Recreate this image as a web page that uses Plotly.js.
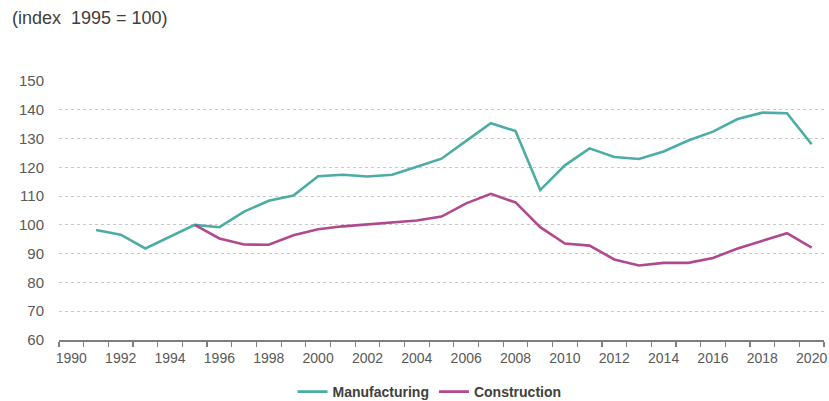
<!DOCTYPE html>
<html>
<head>
<meta charset="utf-8">
<script src="https://cdn.plot.ly/plotly-3.0.1.min.js"></script>
<style>html,body{margin:0;padding:0;background:#fff;}#chart{width:829px;height:401px;}</style>
</head>
<body>
<div id="chart"></div>
<script>
const yearsManufacturing = [1991,1992,1993,1994,1995,1996,1997,1998,1999,2000,2001,2002,2003,2004,2005,2006,2007,2008,2009,2010,2011,2012,2013,2014,2015,2016,2017,2018,2019,2020];
const manufacturing = [98.2,96.6,91.8,96.0,100.0,99.2,104.6,108.4,110.2,116.9,117.4,116.8,117.4,120.2,123.0,129.2,135.3,132.6,112.1,120.7,126.6,123.6,122.9,125.5,129.3,132.4,136.8,139.0,138.8,128.0];
const yearsConstruction = [1995,1996,1997,1998,1999,2000,2001,2002,2003,2004,2005,2006,2007,2008,2009,2010,2011,2012,2013,2014,2015,2016,2017,2018,2019,2020];
const construction = [100.0,95.3,93.2,93.1,96.4,98.5,99.5,100.2,100.8,101.5,102.9,107.5,110.8,107.8,99.2,93.5,92.8,88.0,85.9,86.8,86.8,88.5,91.8,94.4,97.1,92.1];
const yTicks = [60,70,80,90,100,110,120,130,140,150];
const xTickYears = [1990,1992,1994,1996,1998,2000,2002,2004,2006,2008,2010,2012,2014,2016,2018,2020];

const fam = '"Liberation Sans", Arial, sans-serif';

const traces = [
  {x: yearsManufacturing, y: manufacturing, type: 'scatter', mode: 'lines', name: 'Manufacturing',
   line: {color: '#4BADA5', width: 2.6}},
  {x: yearsConstruction, y: construction, type: 'scatter', mode: 'lines', name: 'Construction',
   line: {color: '#B0498F', width: 2.6}}
];

const layout = {
  width: 829, height: 401,
  margin: {l: 59, r: 5, t: 81, b: 61, autoexpand: false},
  paper_bgcolor: '#fff', plot_bgcolor: '#fff',
  font: {family: fam, size: 14, color: '#595959'},
  showlegend: true,
  legend: {orientation: 'h', x: 0.5 - 12/765, xanchor: 'center', y: -52/259, yanchor: 'middle',
           font: {family: fam, size: 14, color: '#404040', weight: 'bold'},
           itemwidth: 30, tracegroupgap: 0},
  annotations: [{text: '(index  1995 = 100)', xref: 'paper', yref: 'paper', x: -49/765, y: 1 + 63/259,
                 xanchor: 'left', yanchor: 'middle', showarrow: false,
                 font: {family: fam, size: 18, color: '#404040'}}],
  xaxis: {
    range: [1989.5, 2020.5], tickmode: 'array', tickvals: xTickYears, ticktext: xTickYears.map(String),
    ticks: '', showgrid: false, zeroline: false,
    showline: true, linecolor: '#7f7f7f', linewidth: 1.5,
    ticklabelstandoff: 5,
    tickfont: {family: fam, size: 14, color: '#595959'},
    minor: {tick0: 1989.5, dtick: 1, ticks: 'outside', ticklen: 5, tickcolor: '#7f7f7f', tickwidth: 1.2, showgrid: false},
    fixedrange: true
  },
  yaxis: {
    range: [60, 150], tickmode: 'array', tickvals: yTicks,
    showgrid: true, gridcolor: '#c8c8c8', griddash: 'dot', gridwidth: 1,
    zeroline: false, showline: false, ticks: '',
    ticklabelstandoff: 14,
    tickfont: {family: fam, size: 15, color: '#595959'},
    fixedrange: true
  }
};

Plotly.newPlot('chart', traces, layout, {displayModeBar: false, staticPlot: true});
</script>
</body>
</html>
